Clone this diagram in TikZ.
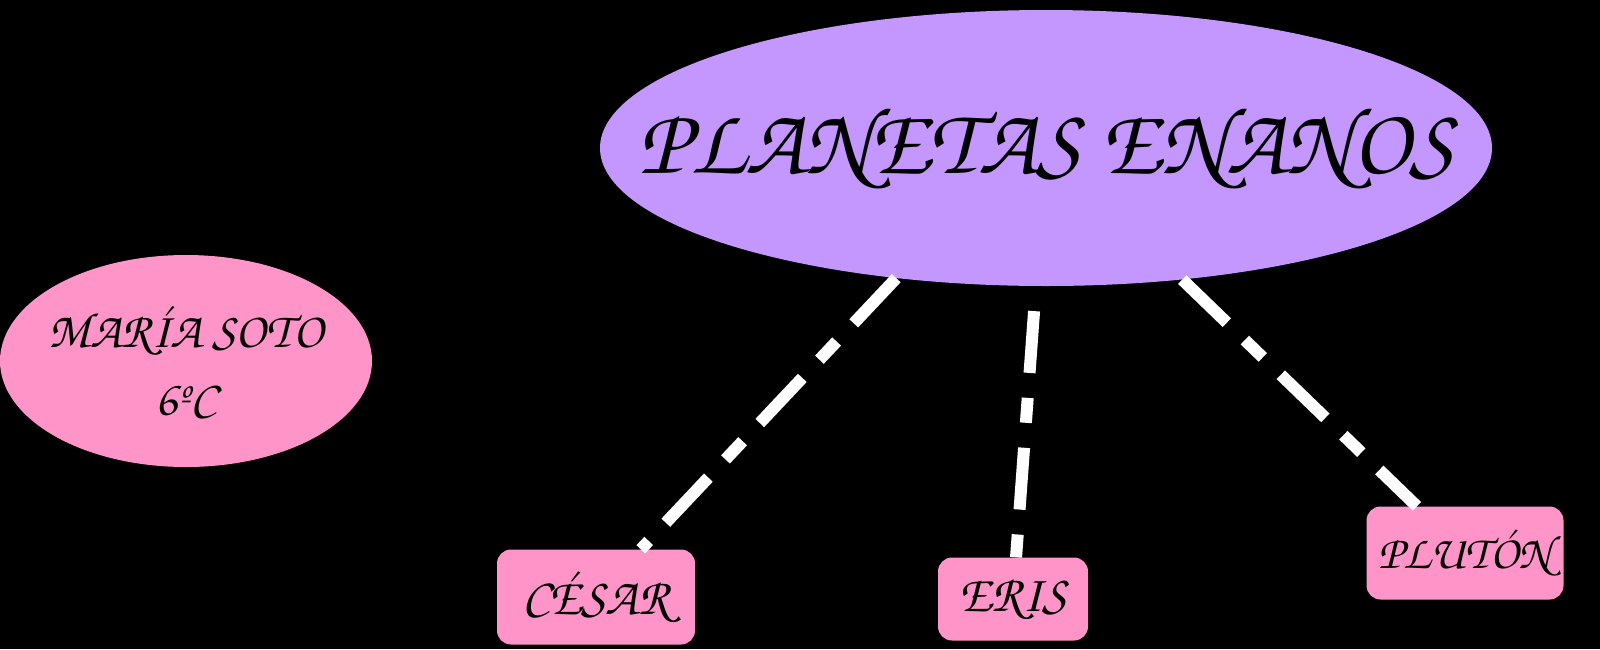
\documentclass[tikz,border=0pt]{standalone}
\usepackage[T1]{fontenc}
\usepackage{graphicx}
\usetikzlibrary{shapes.geometric}

\definecolor{lila}{RGB}{196,151,255}
\definecolor{rosa}{RGB}{255,148,200}
\newcommand{\mano}{\fontfamily{pzc}\fontseries{m}\fontshape{it}\selectfont}

\begin{document}
\begin{tikzpicture}[x=1pt, y=-1pt,
    oval/.style={ellipse, fill=#1, inner sep=0pt},
    caja/.style={rectangle, rounded corners=14pt, fill=rosa, inner sep=0pt},
    raya/.style={white, line width=12pt, dash pattern=on 62pt off 25pt on 25pt off 25pt}]
    \useasboundingbox[fill=black] (0,0) rectangle (1600,649);

    % titulo
    \node[oval=lila, minimum width=892pt, minimum height=276pt,
          font=\mano\fontsize{95}{100}\selectfont] (planetas) at (1046,148)
        {\makebox[0pt]{PLANETAS ENANOS}};

    % autora
    \node[oval=rosa, minimum width=372pt, minimum height=212pt, align=center,
          font=\mano\fontsize{50}{68}\selectfont] (maria) at (186,361)
        {\makebox[0pt]{MAR\'IA SOTO}\\ \makebox[0pt]{6\textordmasculine C}};

    % planetas enanos
    \node[caja, minimum width=198pt, minimum height=95pt,
          font=\mano\fontsize{52}{54}\selectfont] (cesar) at (596,597) {C\'ESAR};
    \node[caja, minimum width=150pt, minimum height=83pt,
          font=\mano\fontsize{52}{54}\selectfont] (eris) at (1013,599) {ERIS};
    \node[caja, minimum width=197pt, minimum height=93pt,
          font=\mano\fontsize{47}{50}\selectfont] (pluton) at (1465,553) {PLUT\'ON};

    \draw[raya] (planetas.221) -- (cesar);
    \draw[raya, dash phase=112pt] (planetas) -- (eris);
    \draw[raya] (planetas) -- (pluton);
\end{tikzpicture}
\end{document}
